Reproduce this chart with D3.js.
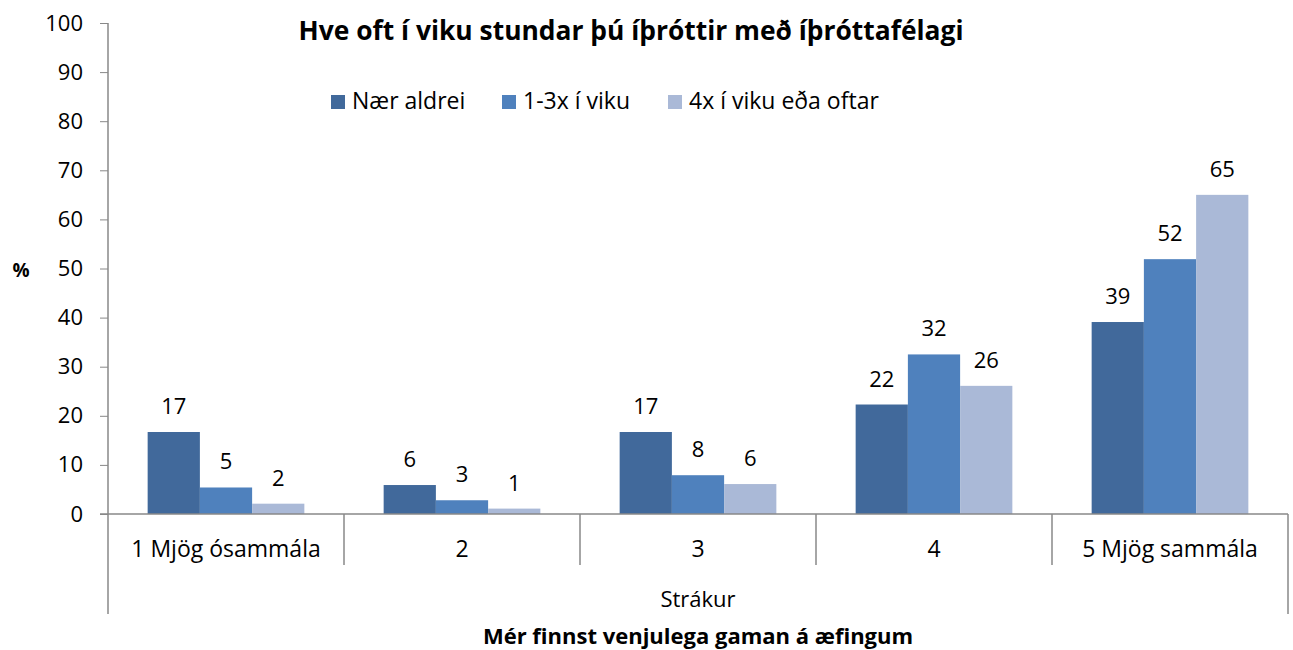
<!DOCTYPE html>
<html><head><meta charset="utf-8">
<script src="https://cdn.jsdelivr.net/npm/d3@7"></script>
<style>body{margin:0;background:#fff}text{font-family:"Open Sans",sans-serif;fill:#000}</style>
</head><body><svg id="c" width="1293" height="650"></svg>
<script>
const categories = ["1 Mjög ósammála","2","3","4","5 Mjög sammála"];
const seriesNames = ["Nær aldrei","1-3x í viku","4x í viku eða oftar"];
const naerAldrei = [16.7, 5.9, 16.7, 22.3, 39.1];
const einTilThrir = [5.4, 2.8, 7.9, 32.5, 51.9];
const fjorirOftar = [2.1, 1.1, 6.1, 26.1, 65.0];
const labelsNaer = ["17","6","17","22","39"];
const labelsEin = ["5","3","8","32","52"];
const labelsFjorir = ["2","1","6","26","65"];
const yTicks = [0,10,20,30,40,50,60,70,80,90,100];
const colors = ["#41699B","#4F81BD","#AAB9D7"];

const series = [naerAldrei, einTilThrir, fjorirOftar];
const labels = [labelsNaer, labelsEin, labelsFjorir];
const svg = d3.select("#c");
const L = 108, R = 1288, T = 23, B = 514;
const y = d3.scaleLinear().domain([0,100]).range([B,T]);
const x0 = d3.scaleBand().domain(categories).range([L,R]).padding(0);
const bw = x0.bandwidth();
const x1 = d3.scaleBand().domain(d3.range(3)).range([bw*0.168, bw*0.832]).padding(0);
const FS = "22px";

// y axis
const yAxis = d3.axisLeft(y).tickValues(yTicks).tickSize(8).tickPadding(17);
const gy = svg.append("g").attr("transform",`translate(${L},0)`).call(yAxis);
gy.select(".domain").remove();
gy.selectAll("line").attr("stroke","#888");
gy.selectAll("text").style("font-size",FS).attr("fill","#000");
svg.append("line").attr("x1",L).attr("x2",L).attr("y1",T).attr("y2",614).attr("stroke","#888").attr("stroke-width",1.5);

// bars
categories.forEach((c,i)=>{
  series.forEach((s,j)=>{
    const xx = x0(c)+x1(j);
    svg.append("rect").attr("x",xx).attr("y",y(s[i])).attr("width",x1.bandwidth()).attr("height",B-y(s[i])).attr("fill",colors[j]);
    svg.append("text").attr("x",xx+x1.bandwidth()/2).attr("y",y(s[i])-18).attr("text-anchor","middle").style("font-size",FS).text(labels[j][i]);
  });
});

// x axis
svg.append("line").attr("x1",L-8).attr("x2",R).attr("y1",B).attr("y2",B).attr("stroke","#888").attr("stroke-width",1.5);
categories.forEach((c,i)=>{
  const xs = x0(c);
  if(i>0) svg.append("line").attr("x1",xs).attr("x2",xs).attr("y1",B).attr("y2",565).attr("stroke","#888").attr("stroke-width",1.5);
  svg.append("text").attr("x",xs+bw/2).attr("y",557).attr("text-anchor","middle").style("font-size","23px").text(c);
});
svg.append("line").attr("x1",R).attr("x2",R).attr("y1",B).attr("y2",614).attr("stroke","#888").attr("stroke-width",1.5);
svg.append("text").attr("x",(L+R)/2).attr("y",607).attr("text-anchor","middle").style("font-size",FS).text("Strákur");
svg.append("text").attr("x",(L+R)/2).attr("y",644).attr("text-anchor","middle").style("font-size",FS).style("font-weight","bold").text("Mér finnst venjulega gaman á æfingum");

// y title
svg.append("text").attr("x",21).attr("y",277).attr("text-anchor","middle").style("font-size","19px").style("font-weight","bold").text("%");

// title
svg.append("text").attr("x",631).attr("y",40).attr("text-anchor","middle").style("font-size","26.4px").style("font-weight","bold").text("Hve oft í viku stundar þú íþróttir með íþróttafélagi");

// legend
const legX = [331, 502, 668];
seriesNames.forEach((n,j)=>{
  svg.append("rect").attr("x",legX[j]).attr("y",95).attr("width",14).attr("height",14).attr("fill",colors[j]);
  svg.append("text").attr("x",legX[j]+21).attr("y",109).style("font-size","23px").text(n);
});
</script></body></html>
